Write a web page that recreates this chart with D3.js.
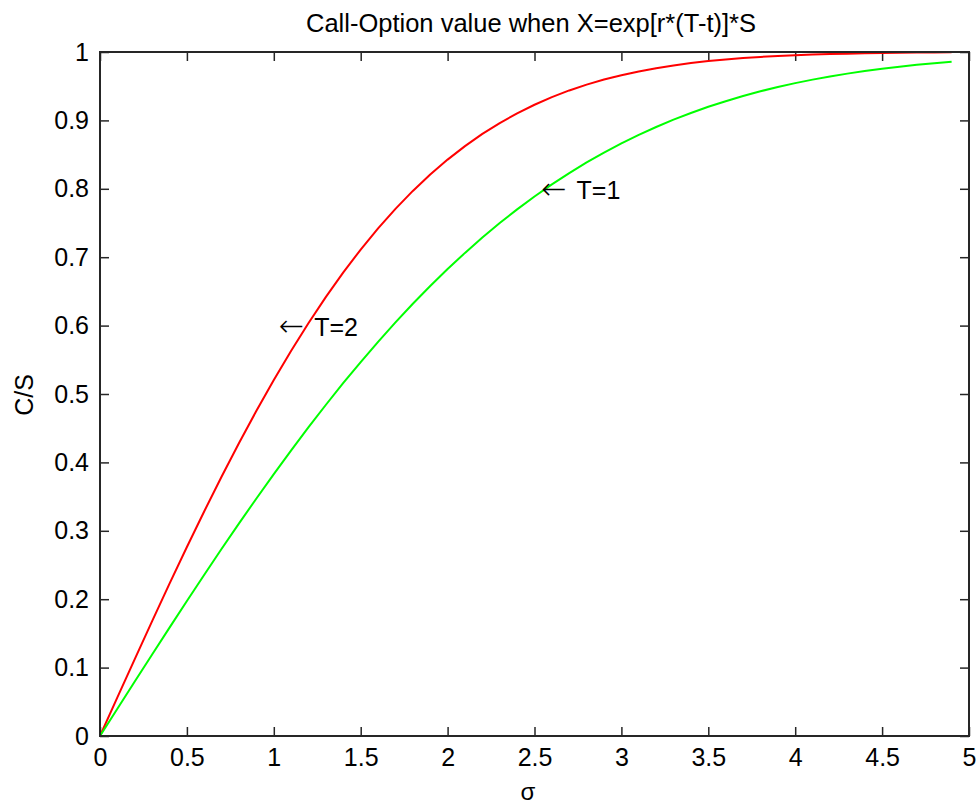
<!DOCTYPE html>
<html>
<head>
<meta charset="utf-8">
<script src="https://cdn.jsdelivr.net/npm/d3@7"></script>
<style>
  html, body { margin: 0; padding: 0; background: #fff; }
  svg { display: block; }
  text { font-family: "Liberation Sans", Arial, Helvetica, sans-serif; fill: #000; }
</style>
</head>
<body>
<svg id="chart" width="976" height="806"></svg>
<script>
// ---- data ----
const sigma = [0,0.1,0.2,0.3,0.4,0.5,0.6,0.7,0.8,0.9,1.0,1.1,1.2,1.3,1.4,1.5,1.6,1.7,1.8,1.9,
  2.0,2.1,2.2,2.3,2.4,2.5,2.6,2.7,2.8,2.9,3.0,3.1,3.2,3.3,3.4,3.5,3.6,3.7,3.8,3.9,
  4.0,4.1,4.2,4.3,4.4,4.5,4.6,4.7,4.8,4.9];

const valueT2 = [0,0.0564,0.1125,0.1680,0.2227,0.2763,0.3286,0.3794,0.4284,0.4755,
  0.5205,0.5633,0.6039,0.6420,0.6778,0.7112,0.7421,0.7707,0.7969,0.8209,
  0.8427,0.8624,0.8802,0.8961,0.9103,0.9229,0.9340,0.9438,0.9523,0.9597,
  0.9661,0.9716,0.9763,0.9804,0.9838,0.9867,0.9891,0.9911,0.9928,0.9942,
  0.9953,0.9963,0.9970,0.9976,0.9981,0.9985,0.9989,0.9991,0.9993,0.9995];

const valueT1 = [0,0.0399,0.0797,0.1192,0.1585,0.1974,0.2358,0.2737,0.3108,0.3473,
  0.3829,0.4177,0.4515,0.4843,0.5161,0.5467,0.5763,0.6047,0.6319,0.6579,
  0.6827,0.7063,0.7287,0.7499,0.7699,0.7887,0.8064,0.8230,0.8385,0.8529,
  0.8664,0.8789,0.8904,0.9011,0.9109,0.9199,0.9281,0.9357,0.9426,0.9488,
  0.9545,0.9596,0.9643,0.9684,0.9722,0.9756,0.9786,0.9812,0.9836,0.9857];

const xTickValues = [0,0.5,1,1.5,2,2.5,3,3.5,4,4.5,5];
const xTickLabels = ["0","0.5","1","1.5","2","2.5","3","3.5","4","4.5","5"];
const yTickValues = [0,0.1,0.2,0.3,0.4,0.5,0.6,0.7,0.8,0.9,1];
const yTickLabels = ["0","0.1","0.2","0.3","0.4","0.5","0.6","0.7","0.8","0.9","1"];

const seriesNames = ["T=2","T=1"];
const seriesColors = ["#ff0000","#00ff00"];

const annotations = [
  {x: 1.03, y: 0.598, arrow: "\u2190", label: "T=2"},
  {x: 2.54, y: 0.798, arrow: "\u2190", label: "T=1"}
];

const titleText = "Call-Option value when X=exp[r*(T-t)]*S";
const xLabel = "\u03c3";
const yLabel = "C/S";

// ---- layout ----
const L = 100, R = 969, T = 52, B = 736;
const svg = d3.select("#chart");

const x = d3.scaleLinear().domain([0,5]).range([L,R]);
const y = d3.scaleLinear().domain([0,1]).range([B,T]);

const tickFont = 25;
const axisColor = "#262626";

function styleAxis(g) {
  g.select(".domain").remove();
  g.selectAll(".tick line").attr("stroke", axisColor).attr("stroke-width", 1.5);
  g.selectAll(".tick text").attr("font-size", tickFont)
    .attr("font-family", "'Liberation Sans', Arial, sans-serif").attr("fill", "#000");
}

// bottom
svg.append("g").attr("transform", `translate(0,${B})`)
  .call(d3.axisBottom(x).tickValues(xTickValues)
    .tickFormat((d,i) => xTickLabels[i]).tickSizeInner(-9).tickSizeOuter(0).tickPadding(12))
  .call(styleAxis);
// top
svg.append("g").attr("transform", `translate(0,${T})`)
  .call(d3.axisTop(x).tickValues(xTickValues).tickFormat("").tickSizeInner(-9).tickSizeOuter(0))
  .call(styleAxis);
// left
svg.append("g").attr("transform", `translate(${L},0)`)
  .call(d3.axisLeft(y).tickValues(yTickValues)
    .tickFormat((d,i) => yTickLabels[i]).tickSizeInner(-9).tickSizeOuter(0).tickPadding(11))
  .call(styleAxis);
// right
svg.append("g").attr("transform", `translate(${R},0)`)
  .call(d3.axisRight(y).tickValues(yTickValues).tickFormat("").tickSizeInner(-9).tickSizeOuter(0))
  .call(styleAxis);

// lines
const series = [valueT2, valueT1];
const line = d3.line().x((d,i) => x(sigma[i])).y(d => y(d));
series.forEach((vals, k) => {
  svg.append("path")
    .datum(vals)
    .attr("d", line)
    .attr("fill", "none")
    .attr("stroke", seriesColors[k])
    .attr("stroke-width", 2)
    .attr("stroke-linejoin", "round");
});

// box
svg.append("rect")
  .attr("x", L).attr("y", T).attr("width", R - L).attr("height", B - T)
  .attr("fill", "none").attr("stroke", axisColor).attr("stroke-width", 2);

// annotations
const ann = svg.selectAll("text.annot").data(annotations).enter().append("text")
  .attr("class", "annot")
  .attr("x", d => x(d.x))
  .attr("y", d => y(d.y))
  .attr("dy", "0.36em")
  .attr("font-size", 25);
ann.append("tspan")
  .attr("font-family", "'DejaVu Sans', sans-serif")
  .attr("font-size", 30)
  .attr("font-weight", 300)
  .text(d => d.arrow);
ann.append("tspan")
  .attr("dx", 10)
  .text(d => d.label);

// title
svg.append("text")
  .attr("x", 531).attr("y", 32)
  .attr("text-anchor", "middle")
  .attr("font-size", 25.5)
  .text(titleText);

// x label
svg.append("text")
  .attr("x", 528).attr("y", 800)
  .attr("text-anchor", "middle")
  .attr("font-size", 24)
  .text(xLabel);

// y label
svg.append("text")
  .attr("transform", "translate(33,395) rotate(-90)")
  .attr("text-anchor", "middle")
  .attr("font-size", 25)
  .text(yLabel);
</script>
</body>
</html>
